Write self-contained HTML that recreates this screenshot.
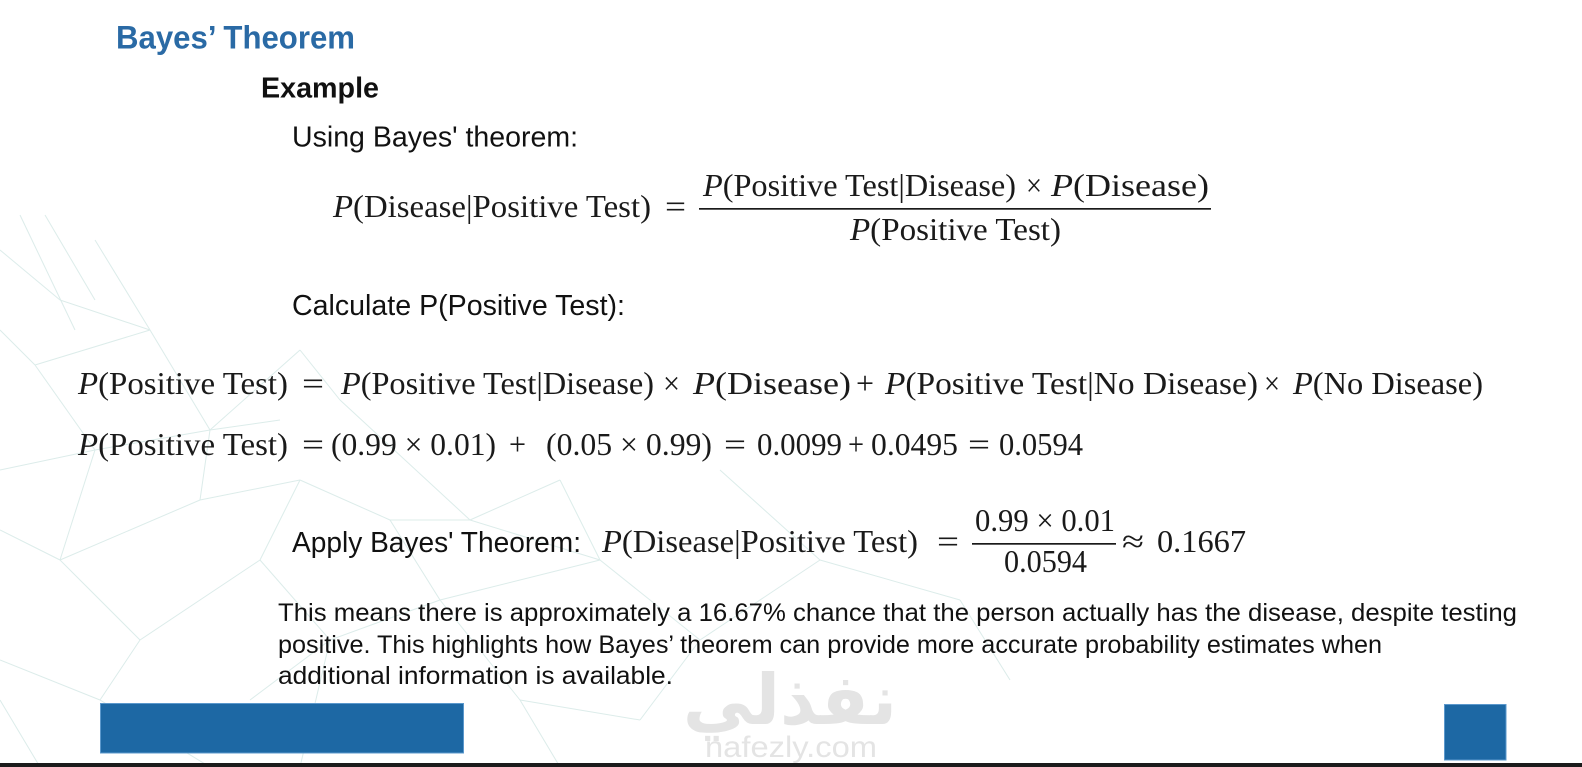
<!DOCTYPE html>
<html>
<head>
<meta charset="utf-8">
<style>
  html,body{margin:0;padding:0;background:#ffffff;}
  body{width:1582px;height:767px;overflow:hidden;}
  svg{display:block;}
  .s{font-family:"Liberation Sans",sans-serif;fill:#111111;}
  .m{font-family:"Liberation Serif",serif;font-size:32px;fill:#1a1a1a;}
  .i{font-style:italic;}
</style>
</head>
<body>
<svg width="1582" height="767" viewBox="0 0 1582 767" xmlns="http://www.w3.org/2000/svg">
  <rect x="0" y="0" width="1582" height="767" fill="#ffffff"/>

  <!-- faint network background -->
  <g stroke="#dcecea" stroke-width="1" fill="none">
    <line x1="0" y1="250" x2="60" y2="300"/>
    <line x1="20" y1="215" x2="75" y2="330"/>
    <line x1="45" y1="215" x2="95" y2="300"/>
    <line x1="95" y1="240" x2="150" y2="330"/>
    <line x1="60" y1="300" x2="150" y2="330"/>
    <line x1="150" y1="330" x2="210" y2="430"/>
    <line x1="150" y1="330" x2="35" y2="365"/>
    <line x1="0" y1="330" x2="35" y2="365"/>
    <line x1="35" y1="365" x2="95" y2="450"/>
    <line x1="95" y1="450" x2="210" y2="430"/>
    <line x1="210" y1="430" x2="300" y2="350"/>
    <line x1="300" y1="350" x2="340" y2="400"/>
    <line x1="210" y1="430" x2="280" y2="420"/>
    <line x1="0" y1="470" x2="95" y2="450"/>
    <line x1="95" y1="450" x2="60" y2="560"/>
    <line x1="0" y1="530" x2="60" y2="560"/>
    <line x1="60" y1="560" x2="200" y2="500"/>
    <line x1="200" y1="500" x2="300" y2="480"/>
    <line x1="300" y1="480" x2="260" y2="560"/>
    <line x1="60" y1="560" x2="140" y2="640"/>
    <line x1="140" y1="640" x2="260" y2="560"/>
    <line x1="260" y1="560" x2="330" y2="640"/>
    <line x1="330" y1="640" x2="440" y2="600"/>
    <line x1="440" y1="600" x2="390" y2="520"/>
    <line x1="390" y1="520" x2="300" y2="480"/>
    <line x1="140" y1="640" x2="100" y2="700"/>
    <line x1="0" y1="660" x2="100" y2="700"/>
    <line x1="100" y1="700" x2="210" y2="767"/>
    <line x1="330" y1="640" x2="300" y2="767"/>
    <line x1="440" y1="600" x2="520" y2="700"/>
    <line x1="520" y1="700" x2="560" y2="767"/>
    <line x1="440" y1="600" x2="600" y2="560"/>
    <line x1="600" y1="560" x2="700" y2="640"/>
    <line x1="700" y1="640" x2="640" y2="720"/>
    <line x1="640" y1="720" x2="520" y2="700"/>
    <line x1="0" y1="700" x2="40" y2="767"/>
    <line x1="250" y1="700" x2="330" y2="640"/>
    <line x1="470" y1="520" x2="600" y2="560"/>
    <line x1="390" y1="520" x2="470" y2="520"/>
    <line x1="600" y1="560" x2="560" y2="480"/>
    <line x1="560" y1="480" x2="470" y2="520"/>
    <line x1="700" y1="640" x2="820" y2="560"/>
    <line x1="820" y1="560" x2="960" y2="600"/>
    <line x1="720" y1="470" x2="820" y2="560"/>
    <line x1="960" y1="600" x2="1010" y2="680"/>
    <line x1="340" y1="400" x2="470" y2="520"/>
    <line x1="200" y1="500" x2="210" y2="430"/>
  </g>

  <!-- headings -->
  <text x="116" y="48.5" font-family="Liberation Sans, sans-serif" font-size="32" font-weight="bold" fill="#2a6aa5" textLength="239" lengthAdjust="spacingAndGlyphs">Bayes’ Theorem</text>
  <text class="s" x="261" y="97.5" font-size="29" font-weight="bold" textLength="118" lengthAdjust="spacingAndGlyphs">Example</text>
  <text class="s" x="292" y="146.5" font-size="29" textLength="286" lengthAdjust="spacingAndGlyphs">Using Bayes' theorem:</text>

  <!-- Formula 1 -->
  <text class="m" x="333" y="217" textLength="318" lengthAdjust="spacingAndGlyphs"><tspan class="i">P</tspan>(Disease|Positive Test)</text>
  <text class="m" x="665" y="217" textLength="21" lengthAdjust="spacingAndGlyphs">=</text>
  <text class="m" x="703" y="196" textLength="313" lengthAdjust="spacingAndGlyphs"><tspan class="i">P</tspan>(Positive Test|Disease)</text>
  <text class="m" x="1026" y="196" textLength="16" lengthAdjust="spacingAndGlyphs">×</text>
  <text class="m" x="1051" y="196" textLength="158" lengthAdjust="spacingAndGlyphs"><tspan class="i">P</tspan>(Disease)</text>
  <rect x="699" y="208" width="512" height="1.7" fill="#1a1a1a"/>
  <text class="m" x="850" y="240" textLength="211" lengthAdjust="spacingAndGlyphs"><tspan class="i">P</tspan>(Positive Test)</text>

  <text class="s" x="292" y="315" font-size="29" textLength="333" lengthAdjust="spacingAndGlyphs">Calculate P(Positive Test):</text>

  <!-- Formula 2 -->
  <text class="m" x="78" y="394" textLength="210" lengthAdjust="spacingAndGlyphs"><tspan class="i">P</tspan>(Positive Test)</text>
  <text class="m" x="302" y="394" textLength="22" lengthAdjust="spacingAndGlyphs">=</text>
  <text class="m" x="341" y="394" textLength="313" lengthAdjust="spacingAndGlyphs"><tspan class="i">P</tspan>(Positive Test|Disease)</text>
  <text class="m" x="663" y="394" textLength="17" lengthAdjust="spacingAndGlyphs">×</text>
  <text class="m" x="693" y="394" textLength="158" lengthAdjust="spacingAndGlyphs"><tspan class="i">P</tspan>(Disease)</text>
  <text class="m" x="856" y="394" textLength="18" lengthAdjust="spacingAndGlyphs">+</text>
  <text class="m" x="885" y="394" textLength="373" lengthAdjust="spacingAndGlyphs"><tspan class="i">P</tspan>(Positive Test|No Disease)</text>
  <text class="m" x="1264" y="394" textLength="16" lengthAdjust="spacingAndGlyphs">×</text>
  <text class="m" x="1293" y="394" textLength="190" lengthAdjust="spacingAndGlyphs"><tspan class="i">P</tspan>(No Disease)</text>

  <!-- Formula 3 -->
  <text class="m" x="78" y="455" textLength="210" lengthAdjust="spacingAndGlyphs"><tspan class="i">P</tspan>(Positive Test)</text>
  <text class="m" x="302" y="455" textLength="22" lengthAdjust="spacingAndGlyphs">=</text>
  <text class="m" x="331" y="455" textLength="165" lengthAdjust="spacingAndGlyphs">(0.99 × 0.01)</text>
  <text class="m" x="509" y="455" textLength="17" lengthAdjust="spacingAndGlyphs">+</text>
  <text class="m" x="546" y="455" textLength="166" lengthAdjust="spacingAndGlyphs">(0.05 × 0.99)</text>
  <text class="m" x="724" y="455" textLength="22" lengthAdjust="spacingAndGlyphs">=</text>
  <text class="m" x="757" y="455" textLength="85" lengthAdjust="spacingAndGlyphs">0.0099</text>
  <text class="m" x="848" y="455" textLength="16" lengthAdjust="spacingAndGlyphs">+</text>
  <text class="m" x="871" y="455" textLength="87" lengthAdjust="spacingAndGlyphs">0.0495</text>
  <text class="m" x="968" y="455" textLength="22" lengthAdjust="spacingAndGlyphs">=</text>
  <text class="m" x="999" y="455" textLength="84" lengthAdjust="spacingAndGlyphs">0.0594</text>

  <!-- Apply line -->
  <text class="s" x="292" y="552" font-size="29" textLength="289" lengthAdjust="spacingAndGlyphs">Apply Bayes' Theorem:</text>
  <text class="m" x="602" y="552" textLength="316" lengthAdjust="spacingAndGlyphs"><tspan class="i">P</tspan>(Disease|Positive Test)</text>
  <text class="m" x="937" y="552" textLength="22" lengthAdjust="spacingAndGlyphs">=</text>
  <text class="m" x="975" y="531" textLength="140" lengthAdjust="spacingAndGlyphs">0.99 × 0.01</text>
  <rect x="972" y="543" width="144" height="1.7" fill="#1a1a1a"/>
  <text class="m" x="1004" y="572" textLength="83" lengthAdjust="spacingAndGlyphs">0.0594</text>
  <text class="m" x="1122" y="552" textLength="22" lengthAdjust="spacingAndGlyphs">≈</text>
  <text class="m" x="1157" y="552" textLength="89" lengthAdjust="spacingAndGlyphs">0.1667</text>

  <!-- Paragraph -->
  <text class="s" x="278" y="621" font-size="25" textLength="1239" lengthAdjust="spacingAndGlyphs">This means there is approximately a 16.67% chance that the person actually has the disease, despite testing</text>
  <text class="s" x="278" y="653" font-size="25" textLength="1104" lengthAdjust="spacingAndGlyphs">positive. This highlights how Bayes’ theorem can provide more accurate probability estimates when</text>
  <text class="s" x="278" y="684" font-size="25" textLength="395" lengthAdjust="spacingAndGlyphs">additional information is available.</text>

  <!-- Watermark -->
  <text x="790" y="724" font-family="DejaVu Sans, sans-serif" font-size="70" font-weight="bold" fill="#e4e4e4" text-anchor="middle" direction="rtl">نفذلي</text>
  <text x="705" y="757" font-family="Liberation Sans, sans-serif" font-size="30" fill="#e4e4e4" textLength="172" lengthAdjust="spacingAndGlyphs">nafezly.com</text>

  <!-- Blue bars -->
  <rect x="100.5" y="703.5" width="363" height="49.5" fill="#1d68a4" stroke="#5b98cc" stroke-width="1"/>
  <rect x="1444.5" y="704.5" width="61.5" height="55.5" fill="#1d68a4" stroke="#5b98cc" stroke-width="1"/>

  <!-- Bottom dark strip -->
  <rect x="0" y="763" width="1582" height="4" fill="#1b1b1b"/>
</svg>
</body>
</html>
